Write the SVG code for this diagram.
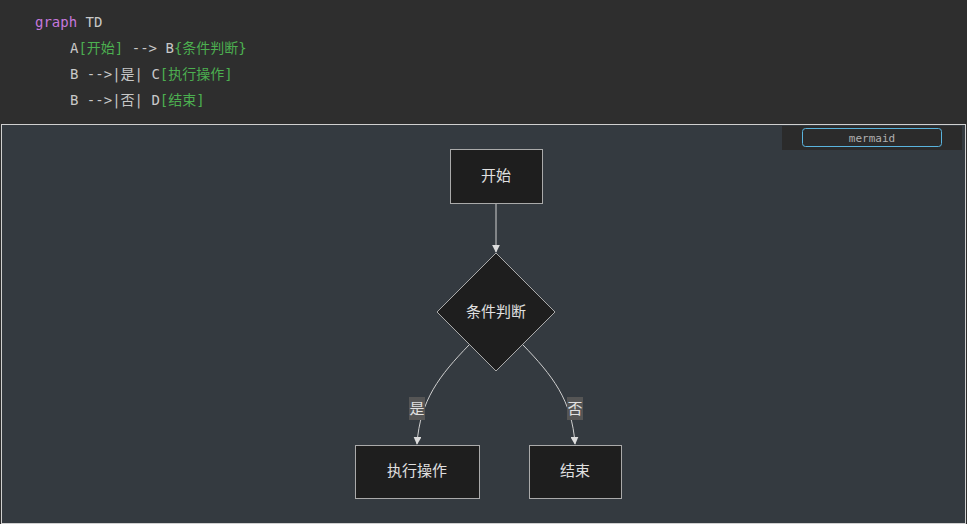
<svg xmlns="http://www.w3.org/2000/svg" width="967" height="524" viewBox="0 0 967 524">
<defs>
<style>
.code{font-family:"DejaVu Sans Mono","Noto Sans CJK SC",monospace;font-size:14px;fill:#c8c8c8}
.kw{fill:#c678dd}.str{fill:#4caf50}
.node{fill:#1e1e1e;stroke:#aaaaaa;stroke-width:1}
.lbl{font-family:"Noto Sans CJK SC","Liberation Sans",sans-serif;font-size:15px;fill:#e0e0e0;text-anchor:middle;dominant-baseline:central}
.edge{fill:none;stroke:#cfcfcf;stroke-width:1}
</style>
<marker id="arr" viewBox="0 0 10 10" refX="9" refY="5" markerWidth="8" markerHeight="8" orient="auto"><path d="M0,0L10,5L0,10z" fill="#dddddd"/></marker>
</defs>
<rect width="967" height="524" fill="#2e2e2e"/>
<text class="code" x="35" y="27"><tspan class="kw">graph</tspan> TD</text>
<text class="code" x="70" y="53">A<tspan class="str">[开始]</tspan> --&gt; B<tspan class="str">{条件判断}</tspan></text>
<text class="code" x="70" y="79">B --&gt;|是| C<tspan class="str">[执行操作]</tspan></text>
<text class="code" x="70" y="105">B --&gt;|否| D<tspan class="str">[结束]</tspan></text>
<rect x="1.5" y="124.5" width="964" height="399" fill="#343a40" stroke="#d0d0d0"/>
<rect x="782" y="126" width="180" height="24" fill="#2b2b2b"/>
<rect x="802.5" y="128.5" width="139" height="18" rx="3" fill="#2b2b2b" stroke="#5ab4de"/>
<text x="872" y="142" font-family="DejaVu Sans Mono,monospace" font-size="11" fill="#b0b0b0" text-anchor="middle">mermaid</text>
<g id="connectors">
<path class="edge" d="M496,203 L496,252" marker-end="url(#arr)"/>
<path class="edge" d="M469,345 C440,375 420,400 417,444" marker-end="url(#arr)"/>
<path class="edge" d="M523,345 C552,375 572,400 575,444" marker-end="url(#arr)"/>
<rect x="409" y="397" width="16" height="23" fill="#555555"/>
<text class="lbl" x="417" y="407">是</text>
<rect x="567" y="397" width="16" height="23" fill="#555555"/>
<text class="lbl" x="575" y="407">否</text>
</g>
<g id="A"><rect class="node" x="450.5" y="149.5" width="92" height="54"/><text class="lbl" x="496" y="174">开始</text></g>
<g id="B"><polygon class="node" points="496,253 555,312 496,371 437,312"/><text class="lbl" x="496" y="310">条件判断</text></g>
<g id="C"><rect class="node" x="355.5" y="445.5" width="124" height="53"/><text class="lbl" x="417" y="469">执行操作</text></g>
<g id="D"><rect class="node" x="529.5" y="445.5" width="92" height="53"/><text class="lbl" x="575" y="469">结束</text></g>
</svg>
